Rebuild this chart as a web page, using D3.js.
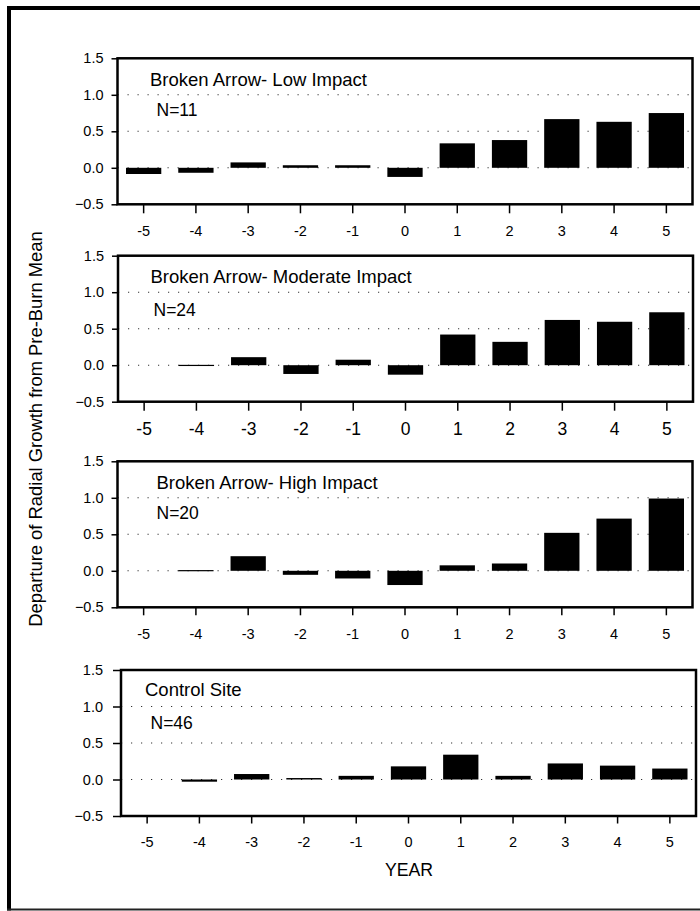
<!DOCTYPE html>
<html>
<head>
<meta charset="utf-8">
<script src="https://cdn.jsdelivr.net/npm/d3@7"></script>
<style>
  body { margin: 0; background: #fff; }
  svg { display: block; font-family: "Liberation Sans", Arial, sans-serif; }
</style>
</head>
<body>
<div id="chart"></div>
<script>
const years = [-5, -4, -3, -2, -1, 0, 1, 2, 3, 4, 5];
const lowImpact = [-0.085, -0.068, 0.074, 0.035, 0.035, -0.125, 0.335, 0.38, 0.667, 0.63, 0.75];
const moderateImpact = [0, 0.005, 0.11, -0.12, 0.075, -0.13, 0.42, 0.32, 0.62, 0.595, 0.725];
const highImpact = [0, 0.01, 0.2, -0.055, -0.105, -0.195, 0.075, 0.1, 0.52, 0.715, 0.99];
const controlSite = [0, -0.03, 0.075, 0.02, 0.05, 0.18, 0.34, 0.05, 0.22, 0.19, 0.15];
const panelTitles = ["Broken Arrow- Low Impact", "Broken Arrow- Moderate Impact", "Broken Arrow- High Impact", "Control Site"];
const sampleSizes = ["N=11", "N=24", "N=20", "N=46"];
const yTicks = [-0.5, 0.0, 0.5, 1.0, 1.5];
const gridTicks = [0.0, 0.5, 1.0];

const series = [lowImpact, moderateImpact, highImpact, controlSite];

const width = 700, height = 911;
const boxW = 575, boxH = 146;
// box placement of each panel, text spots and a few per-panel quirks
const layout = [
  { left: 117.5, top: 58.3, titleX: 150, titleY: 86, nX: 156.5, nY: 115.7, xFont: 14.5, ySize: 6, yPad: 8, xSize: 9 },
  { left: 118, top: 255.7, titleX: 150.5, titleY: 283.3, nX: 153.5, nY: 316, xFont: 17.5, ySize: 6, yPad: 8, xSize: 9 },
  { left: 117.5, top: 461.3, titleX: 156.5, titleY: 489.3, nX: 156.5, nY: 519, xFont: 14.5, ySize: 6, yPad: 8, xSize: 8 },
  { left: 121, top: 670, titleX: 145, titleY: 696, nX: 150.5, nY: 729.3, xFont: 14.5, ySize: 8, yPad: 10, xSize: 7.5 }
];

const svg = d3.select("#chart")
  .append("svg")
  .attr("width", width)
  .attr("height", height);

// outer frame
svg.append("line").attr("x1", 9).attr("x2", 9).attr("y1", 6).attr("y2", 910.5)
  .attr("stroke", "#000").attr("stroke-width", 4);
svg.append("line").attr("x1", 7).attr("x2", 702).attr("y1", 8).attr("y2", 8)
  .attr("stroke", "#000").attr("stroke-width", 4);
svg.append("line").attr("x1", 7).attr("x2", 702).attr("y1", 909.5).attr("y2", 909.5)
  .attr("stroke", "#222").attr("stroke-width", 2);

const x = d3.scaleBand()
  .domain(years)
  .range([0, boxW])
  .paddingInner(0.325)
  .paddingOuter(0.1625);

const y = d3.scaleLinear()
  .domain([-0.5, 1.5])
  .range([boxH, 0]);

series.forEach((values, i) => {
  const L = layout[i];
  const g = svg.append("g")
    .attr("transform", "translate(" + L.left + "," + L.top + ")");

  // dotted grid lines
  g.selectAll(".grid")
    .data(gridTicks)
    .enter()
    .append("line")
    .attr("x1", 0)
    .attr("x2", boxW)
    .attr("y1", d => y(d))
    .attr("y2", d => y(d))
    .attr("stroke", "#333")
    .attr("stroke-width", 1.1)
    .attr("stroke-dasharray", "1.2,8.8");

  // bars
  const data = years.map((yr, j) => ({ year: yr, value: values[j] })).filter(d => d.value !== 0);
  g.selectAll(".bar")
    .data(data)
    .enter()
    .append("rect")
    .attr("x", d => x(d.year))
    .attr("y", d => y(Math.max(0, d.value)))
    .attr("width", x.bandwidth())
    .attr("height", d => Math.max(1.2, Math.abs(y(d.value) - y(0))))
    .attr("fill", "#000");

  // Y axis
  const ya = g.append("g")
    .call(d3.axisLeft(y).tickValues(yTicks).tickSize(L.ySize).tickPadding(L.yPad).tickFormat(d3.format(".1f")));
  ya.select(".domain").remove();
  ya.selectAll("line").attr("stroke-width", 1.5);
  ya.selectAll("text")
    .style("font-family", "'Liberation Sans', Arial, sans-serif")
    .style("font-size", "14.5px")
    .attr("fill", "#000");

  // X axis
  const xa = g.append("g")
    .attr("transform", "translate(0," + boxH + ")")
    .call(d3.axisBottom(x).tickSize(L.xSize).tickPadding(21 - L.xSize));
  xa.select(".domain").remove();
  xa.selectAll("line").attr("stroke-width", 1.5);
  xa.selectAll("text")
    .style("font-family", "'Liberation Sans', Arial, sans-serif")
    .style("font-size", L.xFont + "px")
    .attr("fill", "#000");

  // box
  g.append("rect")
    .attr("x", 0)
    .attr("y", 0)
    .attr("width", boxW)
    .attr("height", boxH)
    .attr("fill", "none")
    .attr("stroke", "#000")
    .attr("stroke-width", 2.5);

  svg.append("text")
    .attr("x", L.titleX)
    .attr("y", L.titleY)
    .style("font-size", "18.5px")
    .text(panelTitles[i]);

  svg.append("text")
    .attr("x", L.nX)
    .attr("y", L.nY)
    .style("font-size", "17.5px")
    .text(sampleSizes[i]);
});

// axis titles
svg.append("text")
  .attr("x", 409)
  .attr("y", 876)
  .attr("text-anchor", "middle")
  .style("font-size", "17.7px")
  .text("YEAR");

svg.append("text")
  .attr("transform", "translate(35.5,429) rotate(-90)")
  .attr("dy", "0.35em")
  .attr("text-anchor", "middle")
  .style("font-size", "18.4px")
  .text("Departure of Radial Growth from Pre-Burn Mean");
</script>
</body>
</html>
